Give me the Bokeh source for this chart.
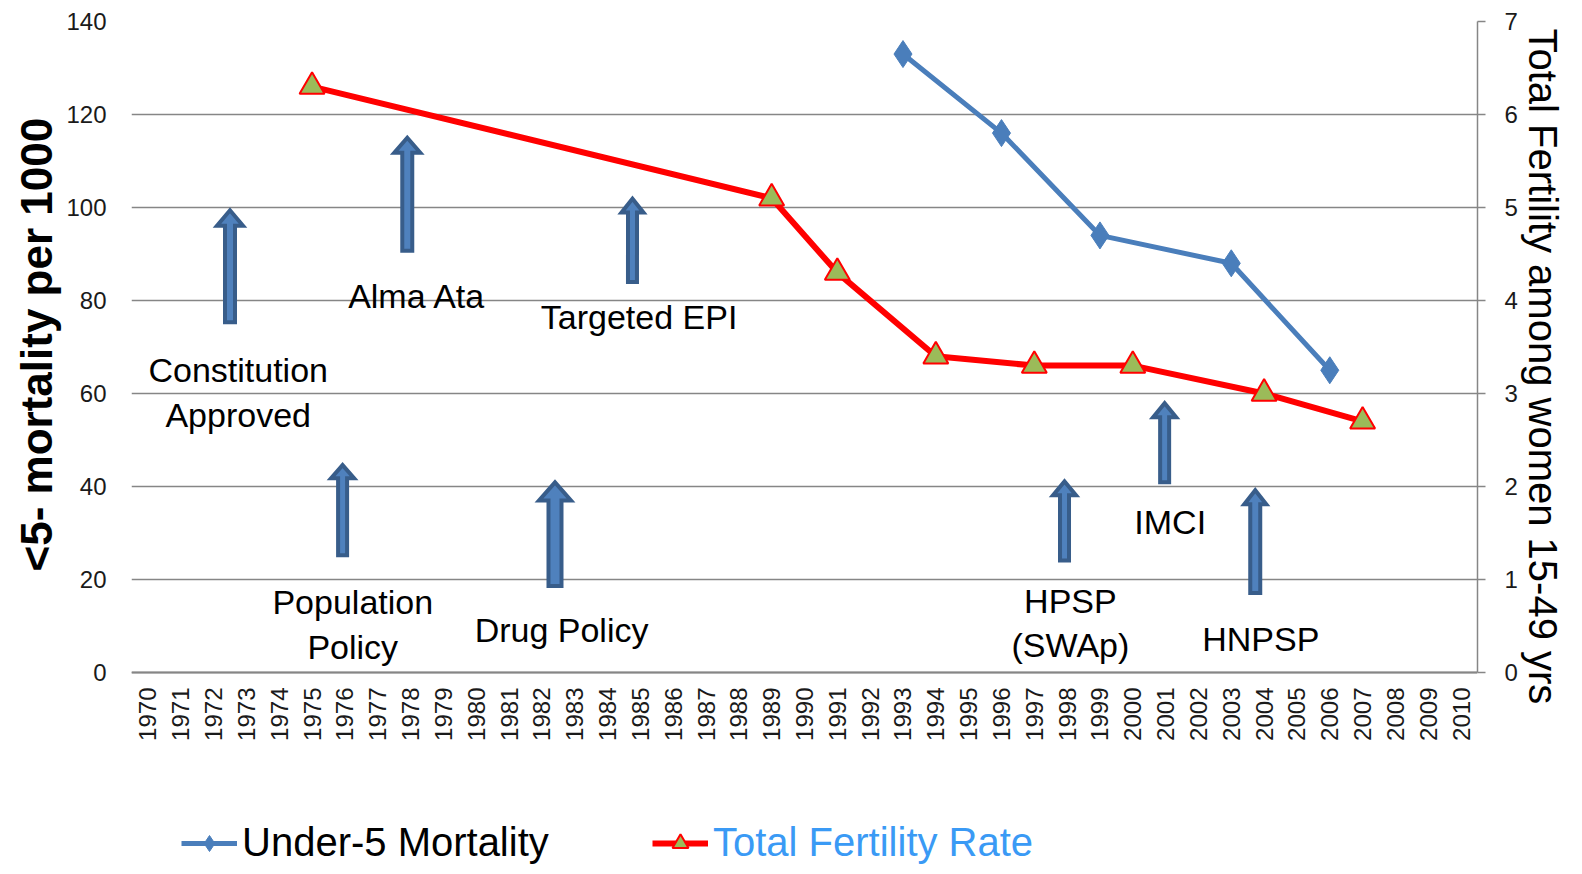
from bokeh.plotting import figure
from bokeh.models import (Range1d, LinearAxis, FixedTicker, Legend, LegendItem,
                          ColumnDataSource, Title)
from bokeh.core.properties import value
from bokeh.embed import file_html
from bokeh.resources import INLINE

# ---------------- data ----------------
years = list(range(1970, 2011))

u5_years = [1993, 1996, 1999, 2003, 2006]
u5_mortality = [133, 116, 94, 88, 65]

tfr_years = [1975, 1989, 1991, 1994, 1997, 2000, 2004, 2007]
tfr_values = [6.3, 5.1, 4.3, 3.4, 3.3, 3.3, 3.0, 2.7]

left_ticks = [0, 20, 40, 60, 80, 100, 120, 140]
right_ticks = [0, 1, 2, 3, 4, 5, 6, 7]

# policy events: arrow x (year), tip, head base, tail (left-axis units), shaft px, head px
event_names = ["Constitution", "Alma Ata", "Population Policy", "Drug Policy",
               "Targeted EPI", "HPSP", "IMCI", "HNPSP"]
arrow_x = [1972.5, 1977.9, 1975.93, 1982.4, 1984.76, 1997.92, 2000.97, 2003.73]
arrow_tip = [99.4, 115.0, 44.6, 40.9, 101.9, 41.1, 57.9, 39.2]
arrow_base = [96.1, 111.8, 41.8, 37.0, 98.9, 38.1, 54.9, 36.2]
arrow_tail = [75.3, 90.7, 25.2, 18.6, 84.0, 24.1, 40.9, 17.1]
arrow_shaft_px = [14, 14, 13, 17, 13, 13, 13, 14]
arrow_head_px = [30, 30, 27, 36, 26, 27, 27, 26]

# label lines (text, centre year, baseline in left-axis units)
label_text = ["Constitution", "Approved", "Alma Ata", "Population", "Policy",
              "Drug Policy", "Targeted EPI", "HPSP", "(SWAp)", "IMCI", "HNPSP"]
label_x = [1972.75, 1972.75, 1978.2, 1976.24, 1976.24, 1982.6, 1984.96,
           1998.1, 1998.1, 2001.14, 2003.9]
label_y = [65.0, 55.3, 80.9, 15.1, 5.5, 9.1, 76.4, 15.4, 5.9, 32.3, 7.2]

# ---------------- layout ----------------
B_LEFT, B_RIGHT, B_TOP = 131, 89, 21
FRAME_W, FRAME_H = 1346, 845
X0, X1 = 1969.5, 2010.5
Y_TOP = 140
PX_PER_UNIT = 651 / 140.0
Y0 = Y_TOP - FRAME_H / PX_PER_UNIT   # frame extends below zero to hold axis labels & legend

GRID = "#868686"
BLUE = "#4A7EBB"
RED = "#FF0000"
GREEN = "#9BBB59"
ARROW_FILL = "#4F81BD"
ARROW_LINE = "#385D8A"
FONT = "Liberation Sans"

p = figure(frame_width=FRAME_W, frame_height=FRAME_H, output_backend="svg",
           toolbar_location=None,
           x_range=Range1d(X0, X1), y_range=Range1d(Y0, Y_TOP),
           min_border_left=B_LEFT, min_border_right=B_RIGHT, min_border_top=B_TOP,
           min_border_bottom=0, outline_line_color=None, y_axis_location=None,
           x_axis_location=None)
p.extra_y_ranges = {"tfr": Range1d(Y0 / 20.0, Y_TOP / 20.0)}

# axes
xaxis = LinearAxis(ticker=FixedTicker(ticks=years), fixed_location=0)
xaxis.major_label_overrides = {y: str(y) for y in years}
xaxis.major_label_orientation = 3.14159265 / 2
xaxis.major_label_text_font = FONT
xaxis.major_label_text_font_size = "24px"
xaxis.major_label_text_color = "#1a1a1a"
xaxis.major_label_standoff = 15
xaxis.major_tick_out = 0
xaxis.major_tick_in = 0
xaxis.minor_tick_out = 0
xaxis.minor_tick_in = 0
xaxis.axis_line_color = GRID
xaxis.axis_line_width = 2
p.add_layout(xaxis, "below")

yaxis = LinearAxis(ticker=FixedTicker(ticks=left_ticks), bounds=(0, 140))
yaxis.axis_line_color = None
yaxis.major_tick_out = 0
yaxis.major_tick_in = 0
yaxis.minor_tick_out = 0
yaxis.minor_tick_in = 0
yaxis.major_label_standoff = 25
yaxis.major_label_text_font = FONT
yaxis.major_label_text_font_size = "24px"
yaxis.major_label_text_color = "#1a1a1a"
p.add_layout(yaxis, "left")

raxis = LinearAxis(y_range_name="tfr", ticker=FixedTicker(ticks=right_ticks),
                   bounds=(0, 7))
raxis.axis_line_color = GRID
raxis.axis_line_width = 1.5
raxis.major_tick_line_color = GRID
raxis.major_tick_line_width = 1.5
raxis.major_tick_out = 8
raxis.major_tick_in = 0
raxis.minor_tick_out = 0
raxis.minor_tick_in = 0
raxis.major_label_standoff = 19
raxis.major_label_text_font = FONT
raxis.major_label_text_font_size = "24px"
raxis.major_label_text_color = "#1a1a1a"
p.add_layout(raxis, "right")

# axis titles
p.add_layout(Title(text="<5- mortality per 1000", align="left",
                   offset=FRAME_H - 550, standoff=6, text_font=FONT,
                   text_font_style="bold", text_font_size="44px",
                   text_color="#000000"), "left")
p.add_layout(Title(text="Total Fertility among women 15-49 yrs", align="left",
                   offset=7, standoff=0, text_font=FONT,
                   text_font_style="normal", text_font_size="40px",
                   text_color="#000000"), "right")

p.xgrid.visible = False
p.ygrid.ticker = FixedTicker(ticks=left_ticks)
p.ygrid.grid_line_color = GRID
p.ygrid.grid_line_width = 1.5

# ---------------- arrows ----------------
px_per_year = FRAME_W / (X1 - X0)
L = 4
xs, ys = [], []
for xc, tip, base, tail, sw, hw in zip(arrow_x, arrow_tip, arrow_base, arrow_tail,
                                       arrow_shaft_px, arrow_head_px):
    s = (sw - L) / 2 / px_per_year
    h = (hw - L) / 2 / px_per_year
    xs.append([xc - s, xc - s, xc - h, xc, xc + h, xc + s, xc + s])
    ys.append([tail, base, base, tip, base, base, tail])
p.patches(xs, ys, fill_color=ARROW_FILL, line_color=ARROW_LINE, line_width=L,
          line_join="miter")

# ---------------- labels ----------------
p.text(x=label_x, y=label_y, text=label_text, text_align="center",
       text_baseline="alphabetic", text_font=value(FONT),
       text_font_size="34px", text_color="#000000")

# ---------------- series ----------------
tfr_src = ColumnDataSource(dict(x=tfr_years, y=tfr_values))
u5_src = ColumnDataSource(dict(x=u5_years, y=u5_mortality))

l1 = p.line("x", "y", source=u5_src, line_color=BLUE, line_width=5)
s1 = p.scatter("x", "y", source=u5_src, marker="diamond", size=27,
               fill_color=BLUE, line_color=BLUE)
l2 = p.line("x", "y", source=tfr_src, y_range_name="tfr", line_color=RED, line_width=6)
s2 = p.scatter("x", "y", source=tfr_src, y_range_name="tfr", marker="triangle",
               size=25, fill_color=GREEN, line_color=RED, line_width=2)

# ---------------- legends ----------------
def make_legend(label, rends, color, loc):
    return Legend(items=[LegendItem(label=label, renderers=rends)], location=loc,
                  orientation="horizontal", padding=0, margin=0, spacing=0,
                  border_line_color=None, background_fill_alpha=0,
                  glyph_width=56, glyph_height=40, label_standoff=5,
                  label_text_font=FONT, label_text_font_size="40px",
                  label_text_color=color)

p.add_layout(make_legend("Under-5 Mortality", [l1, s1], "#000000", (50, 1)), "center")
p.add_layout(make_legend("Total Fertility Rate", [l2, s2], "#3A9AF5", (521, 1)), "center")

open("out.html", "w").write(file_html(p, INLINE))
